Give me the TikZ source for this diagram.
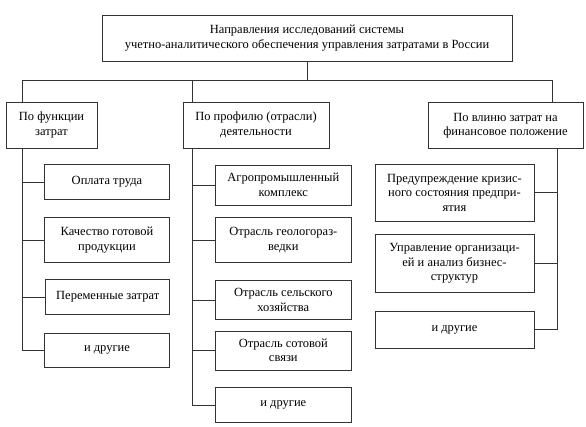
\documentclass[tikz,border=0pt]{standalone}
\usepackage{fontspec}
\setmainfont{Liberation Serif}
\newfontfamily\boxfont{Liberation Serif}
\usepackage{tikz}

\tikzset{
  box/.style={draw=black!80, line width=0.7pt, align=center, inner sep=2pt,
    font=\boxfont\fontsize{12.5}{14.5}\selectfont},
  link/.style={draw=black!80, line width=0.7pt}
}

\begin{document}
\begin{tikzpicture}[x=1pt, y=-1pt]
  \useasboundingbox (0,0) rectangle (586,426);
  % head
  \node[box, minimum width=410pt, minimum height=46pt] (head) at (307,38)
    {Направления исследований системы\\учетно-аналитического обеспечения управления затратами в России};
  % groups
  \node[box, minimum width=91pt, minimum height=46pt] (fun) at (51.5,125) {По функции\\затрат};
  \node[box, minimum width=146pt, minimum height=46pt] (prof) at (256,125) {По профилю (отрасли)\\деятельности};
  \node[box, minimum width=155pt, minimum height=46pt] (infl) at (505.5,125.5) {По влиню затрат на\\финансовое положение};
  % by function
  \node[box, minimum width=125.5pt, minimum height=34.5pt] (l1) at (107,182) {Оплата труда};
  \node[box, minimum width=125.5pt, minimum height=45pt] (l2) at (107,240) {Качество готовой\\продукции};
  \node[box, minimum width=124pt, minimum height=35pt] (l3) at (107.7,297) {Переменные затрат};
  \node[box, minimum width=125.5pt, minimum height=34pt] (l4) at (107,350) {и другие};
  % by branch
  \node[box, minimum width=136.7pt, minimum height=40pt] (m1) at (283.3,185) {Агропромышленный\\комплекс};
  \node[box, minimum width=136.7pt, minimum height=45pt] (m2) at (283.3,240) {Отрасль геологораз-\\ведки};
  \node[box, minimum width=136.7pt, minimum height=39pt] (m3) at (283.3,300) {Отрасль сельского\\хозяйства};
  \node[box, minimum width=136.7pt, minimum height=39pt] (m4) at (283.3,350.5) {Отрасль сотовой\\связи};
  \node[box, minimum width=136.7pt, minimum height=34.5pt] (m5) at (283.3,405) {и другие};
  % by influence
  \node[box, minimum width=159pt, minimum height=56.7pt] (r1) at (454.5,192.7) {Предупреждение кризис-\\ного состояния предпри-\\ятия};
  \node[box, minimum width=159pt, minimum height=58.4pt] (r2) at (454.5,263.5) {Управление организаци-\\ей и анализ бизнес-\\структур};
  \node[box, minimum width=159pt, minimum height=37.3pt] (r3) at (454.5,329.7) {и другие};

  % connectors
  \coordinate (bus) at (307,80);
  \coordinate (sL) at (22,80);
  \coordinate (sM) at (192.5,80);
  \coordinate (sR) at (552.5,80);
  \coordinate (sR2) at (557,80);
  \draw[link] (head) -- (bus);
  \draw[link] (sL |- fun.north) -- (sL) -- (sR) -- (sR |- infl.north);
  \draw[link] (sM) -- (sM |- prof.north);

  \draw[link] (sL |- fun.south) -- (sL |- l4.west) -- (l4.west);
  \foreach \n in {l1,l2,l3}
    \draw[link] (sL |- \n.west) -- (\n.west);

  \draw[link] (sM |- prof.south) -- (sM |- m5.west) -- (m5.west);
  \foreach \n in {m1,m2,m3,m4}
    \draw[link] (sM |- \n.west) -- (\n.west);

  \draw[link] (sR2 |- infl.south) -- (sR2 |- r3.east) -- (r3.east);
  \foreach \n in {r1,r2}
    \draw[link] (sR2 |- \n.east) -- (\n.east);
\end{tikzpicture}
\end{document}
